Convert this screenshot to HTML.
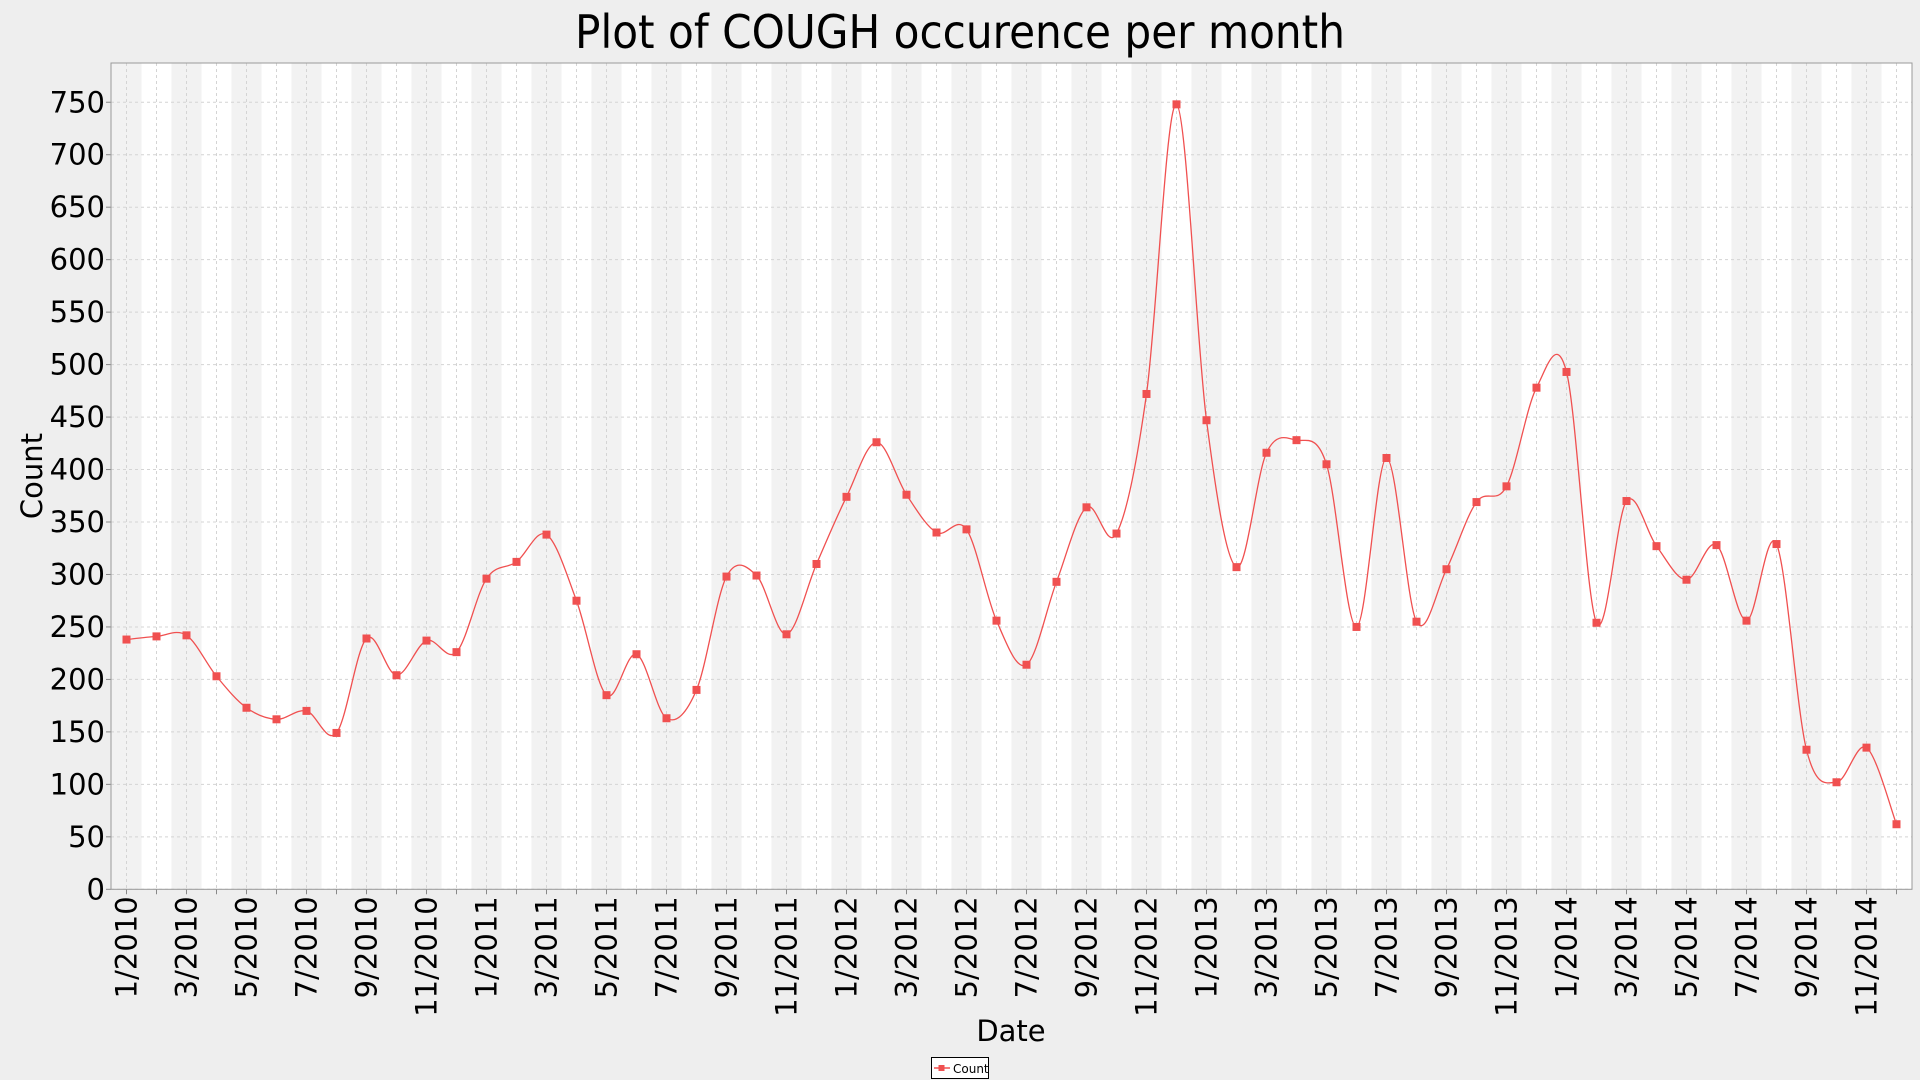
<!DOCTYPE html>
<html><head><meta charset="utf-8"><style>
html,body{margin:0;padding:0;background:#eeeeee;}
svg{display:block;font-family:"DejaVu Sans","Liberation Sans",sans-serif;}
</style></head><body>
<svg id="chart" width="1920" height="1080">
<rect width="1920" height="1080" fill="#eeeeee"/>
<text x="960" y="48" font-size="46" text-anchor="middle" fill="#000" textLength="770" lengthAdjust="spacingAndGlyphs">Plot of COUGH occurence per month</text>
<g id="plot"></g>
<text transform="translate(42,476) rotate(-90)" font-size="29" text-anchor="middle">Count</text>
<text x="1011" y="1041" font-size="29" text-anchor="middle">Date</text>
<g>
<rect x="931.5" y="1057.5" width="57" height="21" fill="#fff" stroke="#000"/>
<line x1="934" y1="1068" x2="950" y2="1068" stroke="#f05050" stroke-width="1.5"/>
<rect x="938.5" y="1065" width="6" height="6" fill="#f05050"/>
<text x="953" y="1073" font-size="12">Count</text>
</g>
</svg>
<script>
const months = [];
for (let y = 2010; y <= 2014; y++) for (let m = 1; m <= 12; m++) months.push(m + "/" + y);
const counts = [238,241,242,203,173,162,170,149,239,204,237,226,
296,312,338,275,185,224,163,190,298,299,243,310,
374,426,376,340,343,256,214,293,364,339,472,748,
447,307,416,428,405,250,411,255,305,369,384,478,
493,254,370,327,295,328,256,329,133,102,135,62];
const yTicks = [0,50,100,150,200,250,300,350,400,450,500,550,600,650,700,750];

const L=111, R=1912, T=63, B=889.3;
const x0=126.5, dx=30;
const xs = i => x0 + i*dx;
const ys = v => B - v*(52.47/50);
const NS="http://www.w3.org/2000/svg";
const plot=document.getElementById('plot');
function mk(tag, attrs, parent){const e=document.createElementNS(NS,tag);for(const k in attrs)e.setAttribute(k,attrs[k]);(parent||plot).appendChild(e);return e;}

mk('rect',{x:L,y:T,width:R-L,height:B-T,fill:'#fff'});
months.forEach((m,i)=>{
  if(i%2===0){
    const x1=Math.max(L,xs(i)-15), x2=Math.min(R,xs(i)+15);
    const b=mk('rect',{x:x1,y:T,width:x2-x1,height:B-T,fill:'#f2f2f2'});
    
    
  }
});
months.forEach((m,i)=>{
  const g=mk('line',{x1:xs(i),y1:T,x2:xs(i),y2:B,stroke:'#d4d4d4','stroke-dasharray':'3,3'});
  
  
  mk('line',{x1:xs(i),y1:B,x2:xs(i),y2:B+5,stroke:'#888'});
  if(i%2===0){
    const t=mk('text',{transform:`translate(${xs(i)+10},${B+7}) rotate(-90)`,'font-size':29,'text-anchor':'end'});
    t.textContent=m;
    
    
  }
});
yTicks.forEach(v=>{
  const g=mk('line',{x1:L,y1:ys(v),x2:R,y2:ys(v),stroke:'#d4d4d4','stroke-dasharray':'3,3'});
  
  
  mk('line',{x1:L-5,y1:ys(v),x2:L,y2:ys(v),stroke:'#888'});
  const t=mk('text',{x:L-6,y:ys(v)+10,'font-size':29,'text-anchor':'end'});
  t.textContent=v;
  
  
});
mk('rect',{x:L,y:T,width:R-L,height:B-T,fill:'none',stroke:'#999'});

const P=counts.map((v,i)=>[xs(i),ys(v)]);
let d=`M${P[0][0]},${P[0][1]}`;
for(let i=0;i<P.length-1;i++){
  const p0=P[Math.max(0,i-1)],p1=P[i],p2=P[i+1],p3=P[Math.min(P.length-1,i+2)];
  const c1=[p1[0]+(p2[0]-p0[0])/6,p1[1]+(p2[1]-p0[1])/6];
  const c2=[p2[0]-(p3[0]-p1[0])/6,p2[1]-(p3[1]-p1[1])/6];
  d+=` C${c1[0]},${c1[1]} ${c2[0]},${c2[1]} ${p2[0]},${p2[1]}`;
}
const line=mk('path',{d:d,fill:'none',stroke:'#f05050','stroke-width':1.3});


counts.forEach((v,i)=>{
  const r=mk('rect',{x:xs(i)-4,y:ys(v)-4,width:8,height:8,fill:'#f05050'});
  
  
});
</script>
</body></html>
